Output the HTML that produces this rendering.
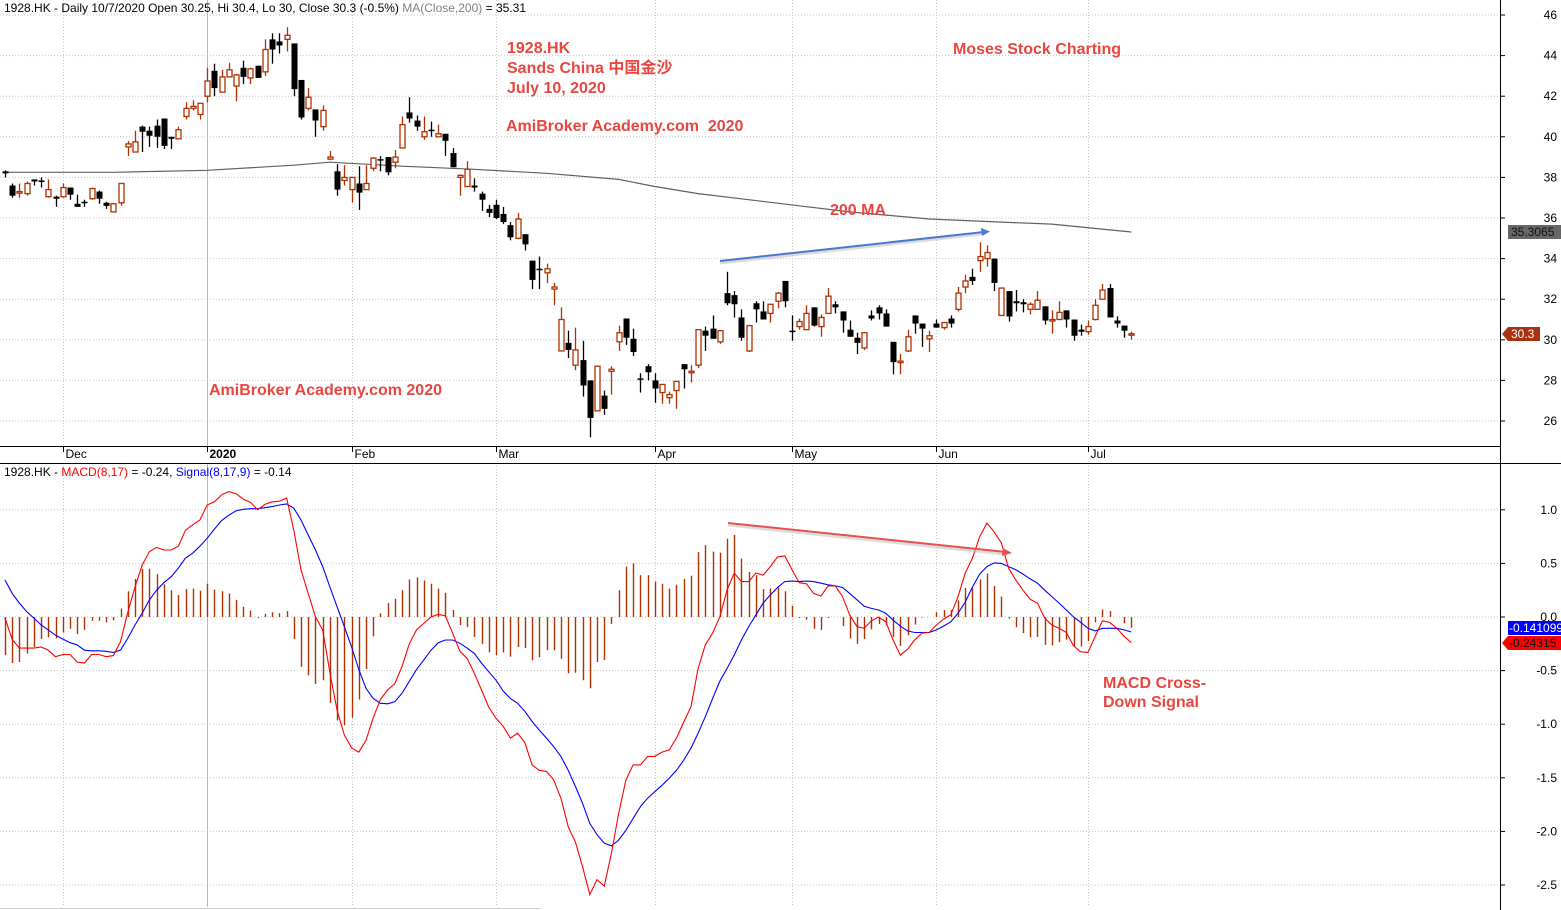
<!DOCTYPE html>
<html><head><meta charset="utf-8"><title>1928.HK Sands China chart</title>
<style>
html,body{margin:0;padding:0;background:#fff;}
svg{display:block;font-family:"Liberation Sans","Noto Sans CJK SC",sans-serif;}
.ann{fill:#e8463f;font-weight:bold;font-size:16px;}
.ax{font-size:12px;fill:#000;}
</style></head>
<body>
<svg id="chart" width="1561" height="910" viewBox="0 0 1561 910" xmlns="http://www.w3.org/2000/svg">
<rect x="0" y="0" width="1561" height="910" fill="#fff"/>
<g id="grid"></g>
<g id="ma"></g>
<g id="candles"></g>
<g id="macd"></g>
<g id="axes"></g>

<text x="4" y="12" class="ax">1928.HK - Daily 10/7/2020 Open 30.25, Hi 30.4, Lo 30, Close 30.3 (-0.5%) <tspan fill="#808080">MA(Close,200)</tspan> = 35.31</text>
<text x="4" y="476" class="ax">1928.HK - <tspan fill="#ff0000">MACD(8,17)</tspan> = -0.24, <tspan fill="#0000ff">Signal(8,17,9)</tspan> = -0.14</text>

<text x="507" y="53" class="ann">1928.HK</text>
<text x="507" y="73" class="ann">Sands China 中国金沙</text>
<text x="507" y="93" class="ann">July 10, 2020</text>
<text x="506" y="131" class="ann" xml:space="preserve">AmiBroker Academy.com  2020</text>
<text x="953" y="54" class="ann">Moses Stock Charting</text>
<text x="830" y="215" class="ann">200 MA</text>
<text x="209" y="395" class="ann">AmiBroker Academy.com 2020</text>
<text x="1103" y="688" class="ann">MACD Cross-</text>
<text x="1103" y="707" class="ann">Down Signal</text>

<g>
<line x1="720" y1="263" x2="982" y2="234" stroke="#bbb" stroke-width="3" opacity="0.5"/>
<line x1="720" y1="261" x2="984" y2="232" stroke="#4a78d0" stroke-width="2"/>
<polygon points="990,231.5 981,228 982,236" fill="#4a78d0"/>
</g>
<g>
<line x1="728" y1="525" x2="1004" y2="554" stroke="#bbb" stroke-width="3" opacity="0.5"/>
<line x1="728" y1="523" x2="1006" y2="552" stroke="#e85050" stroke-width="2"/>
<polygon points="1012,553 1003,548 1002,556" fill="#e85050"/>
</g>

<g>
<rect x="1508" y="225" width="53" height="14" fill="#666"/>
<text x="1511" y="236" font-size="12" fill="#111">35.3065</text>
</g>
<g>
<polygon points="1502,334 1508,327 1540,327 1540,341 1508,341" fill="#a83210"/>
<text x="1511" y="338" font-size="12" fill="#fff">30.3</text>
</g>
<g>
<rect x="1508" y="621" width="53" height="14" fill="#0000ff"/>
<text x="1509" y="632" font-size="12" fill="#fff">-0.141099</text>
</g>
<g>
<polygon points="1502,643 1508,636 1561,636 1561,650 1508,650" fill="#ff0000"/>
<text x="1509" y="647" font-size="12" fill="#111">-0.24315</text>
</g>
</svg>
<script>
const opens=[38.3,37.6,37.25,37.2,37.9,37.85,37.05,37.05,37.05,37.5,36.7,36.8,36.95,37.3,36.75,36.3,36.75,39.5,39.25,40.5,40.3,40.55,40.9,40.0,39.9,41.0,41.4,41.1,42.0,43.25,42.2,42.95,42.5,43.4,42.9,43.5,43.2,44.8,44.7,44.8,44.6,42.8,41.4,41.35,40.5,38.9,38.3,37.85,37.4,37.7,37.4,38.45,38.9,39.0,38.75,39.45,41.2,40.8,40.0,40.35,40.0,40.15,39.2,38.0,37.55,37.6,37.2,36.45,36.65,36.2,35.65,35.0,35.2,33.9,33.5,33.3,32.5,29.45,29.85,28.75,29.0,28.0,26.5,27.25,28.45,29.9,31.05,30.05,28.1,28.7,28.0,27.4,27.15,27.5,28.8,28.45,28.75,30.45,30.55,29.9,32.3,32.2,31.1,29.45,31.8,31.4,31.3,31.9,32.9,30.45,30.65,30.5,31.6,30.65,31.3,31.75,31.4,30.5,30.1,29.6,31.2,31.6,31.3,29.9,28.9,29.45,31.2,30.8,30.05,30.8,30.6,31.05,31.5,32.6,33.1,33.9,34.0,34.0,31.2,32.4,31.9,31.85,31.5,31.5,31.65,30.95,31.0,31.45,31.0,30.5,30.4,31.0,32.0,32.55,30.95,30.7,30.25];
const highs=[38.35,37.7,37.7,37.8,37.9,38.0,37.9,37.1,37.7,37.5,37.15,36.9,37.5,37.35,36.8,36.75,37.7,39.8,40.3,40.55,40.5,40.85,40.9,40.0,40.5,41.7,41.8,41.65,43.4,43.6,43.3,43.65,43.1,43.75,43.4,43.5,44.8,45.1,45.1,45.4,44.6,42.8,42.4,41.35,41.55,39.3,38.65,38.6,38.0,38.55,38.6,39.0,39.05,39.0,39.35,41.0,41.95,41.05,41.0,40.75,40.6,40.15,39.45,38.15,38.8,37.95,37.3,36.65,36.9,36.55,35.8,36.25,35.2,33.9,34.1,33.75,32.8,31.6,30.45,30.6,29.95,28.0,28.7,27.5,28.7,30.7,31.05,30.55,28.35,28.8,28.35,27.8,27.45,27.95,28.8,28.75,30.5,30.65,31.2,30.45,33.35,32.4,31.5,30.7,31.9,31.9,31.75,32.35,32.9,31.2,31.05,31.7,31.6,31.25,32.55,31.9,31.4,30.95,30.35,30.35,31.45,31.7,31.5,29.9,29.3,30.5,31.2,30.8,30.45,31.0,30.85,31.2,32.6,33.2,33.5,34.8,34.65,34.0,32.55,32.4,32.45,32.0,31.85,32.4,31.65,31.45,31.9,31.45,31.0,30.75,30.95,32.0,32.75,32.75,31.15,30.7,30.4];
const lows=[38.0,37.0,37.0,37.1,37.6,37.5,37.0,36.55,37.0,36.9,36.55,36.55,36.9,36.7,36.45,36.3,36.6,39.05,39.25,39.25,39.5,39.45,39.4,39.4,39.9,40.85,41.3,40.85,41.7,42.0,42.2,42.95,41.75,42.6,42.6,42.9,43.0,43.6,44.1,44.2,42.0,40.85,41.3,40.0,40.3,38.85,37.1,37.6,36.75,36.4,37.4,38.3,38.3,38.1,38.45,39.45,40.7,40.3,39.85,40.0,40.0,39.05,38.5,37.1,37.55,37.3,36.35,36.05,35.95,35.7,34.9,34.95,34.4,32.5,32.5,32.8,31.7,29.45,29.1,28.5,27.2,25.2,26.5,26.3,27.3,29.45,29.75,29.2,27.4,28.0,26.9,26.85,26.85,26.6,27.6,27.9,28.6,29.45,30.05,29.8,31.7,31.1,29.95,29.4,30.85,31.0,30.85,31.55,31.6,29.95,30.5,30.5,30.65,30.15,31.3,31.3,30.35,30.15,29.3,29.5,30.95,31.0,30.65,28.3,28.3,29.4,30.3,29.65,29.4,30.6,30.5,30.6,31.4,32.3,32.7,33.35,33.6,32.4,31.2,30.9,31.4,31.35,31.25,31.5,30.75,30.3,31.0,30.6,29.95,30.2,30.25,30.95,32.0,31.1,30.6,30.1,30.0];
const closes=[38.2,37.1,37.3,37.7,37.8,37.8,37.4,36.95,37.5,37.15,36.55,36.75,37.45,36.95,36.6,36.7,37.7,39.65,39.75,40.25,40.05,40.0,39.55,39.9,40.35,41.4,41.5,41.65,42.75,42.4,42.95,43.3,43.05,42.95,43.35,42.9,44.3,44.3,44.5,45.0,42.35,40.95,41.95,40.8,41.3,39.0,37.4,38.0,38.0,37.25,37.7,38.95,38.85,38.25,39.0,40.6,40.9,40.5,40.25,40.3,40.15,39.8,38.5,38.1,38.4,37.5,36.9,36.25,36.0,35.8,35.05,35.95,34.7,32.95,33.45,33.5,32.6,31.0,29.5,29.5,27.75,26.15,28.7,26.6,28.55,30.35,30.1,29.4,28.05,28.4,27.6,27.8,27.3,27.95,28.55,28.45,30.5,30.2,30.05,30.45,31.8,31.75,30.1,30.7,31.5,31.0,31.75,32.3,31.9,30.4,30.9,31.3,30.7,31.1,32.15,31.6,30.95,30.15,29.85,30.35,31.05,31.3,30.65,28.9,28.95,30.15,30.8,30.55,30.2,30.6,30.85,30.8,32.3,32.9,32.9,34.1,34.3,32.8,32.55,31.15,31.8,31.75,31.75,31.95,30.95,31.0,31.35,31.0,30.2,30.4,30.65,31.7,32.45,31.1,30.8,30.45,30.3];
const maIdx=[0,15,28,40,45,55,65,75,85,90,96,110,117,128,138,145,156];
const maVal=[38.25,38.25,38.35,38.6,38.75,38.55,38.4,38.2,37.9,37.55,37.2,36.6,36.3,35.95,35.8,35.7,35.31];
const macdVals=[-0.01,-0.21,-0.29,-0.29,-0.29,-0.28,-0.31,-0.37,-0.35,-0.35,-0.42,-0.43,-0.35,-0.35,-0.37,-0.36,-0.23,0.04,0.28,0.485,0.61,0.65,0.625,0.625,0.66,0.81,0.86,0.905,1.045,1.075,1.14,1.17,1.15,1.10,1.07,1.0,1.05,1.075,1.08,1.11,0.81,0.44,0.22,0.0,-0.12,-0.52,-0.87,-1.1,-1.22,-1.26,-1.15,-0.94,-0.77,-0.68,-0.62,-0.46,-0.25,-0.12,-0.06,0.0,0.025,0.01,-0.15,-0.32,-0.385,-0.525,-0.68,-0.84,-0.945,-1.02,-1.13,-1.085,-1.17,-1.38,-1.43,-1.44,-1.52,-1.69,-1.955,-2.10,-2.33,-2.59,-2.45,-2.51,-2.20,-1.83,-1.52,-1.38,-1.38,-1.30,-1.30,-1.26,-1.24,-1.13,-0.98,-0.84,-0.48,-0.26,-0.15,0.0,0.25,0.41,0.33,0.33,0.41,0.39,0.47,0.56,0.57,0.44,0.32,0.31,0.22,0.195,0.29,0.29,0.19,0.02,-0.09,-0.105,-0.035,0.0,-0.045,-0.215,-0.355,-0.30,-0.215,-0.15,-0.145,-0.075,-0.02,0.02,0.19,0.41,0.55,0.75,0.875,0.795,0.69,0.455,0.345,0.25,0.165,0.13,-0.01,-0.075,-0.105,-0.145,-0.27,-0.325,-0.33,-0.18,-0.035,-0.05,-0.105,-0.18,-0.24];
const signalVals=[0.345,0.22,0.13,0.05,-0.01,-0.075,-0.12,-0.17,-0.205,-0.24,-0.26,-0.31,-0.315,-0.315,-0.32,-0.33,-0.31,-0.2,-0.075,0.035,0.16,0.25,0.32,0.375,0.455,0.55,0.595,0.66,0.735,0.82,0.90,0.95,0.99,1.005,1.01,1.01,1.02,1.03,1.045,1.055,1.015,0.905,0.765,0.625,0.47,0.28,0.095,-0.09,-0.28,-0.49,-0.665,-0.76,-0.805,-0.81,-0.79,-0.71,-0.60,-0.49,-0.40,-0.31,-0.24,-0.215,-0.215,-0.245,-0.29,-0.34,-0.43,-0.51,-0.59,-0.69,-0.76,-0.805,-0.88,-0.975,-1.055,-1.13,-1.21,-1.30,-1.43,-1.58,-1.74,-1.925,-2.03,-2.11,-2.135,-2.08,-1.99,-1.88,-1.77,-1.69,-1.63,-1.57,-1.505,-1.43,-1.335,-1.225,-1.085,-0.93,-0.76,-0.60,-0.48,-0.355,-0.215,-0.09,0.02,0.13,0.205,0.275,0.33,0.335,0.33,0.335,0.33,0.315,0.30,0.29,0.275,0.22,0.16,0.10,0.08,0.065,0.035,-0.03,-0.085,-0.13,-0.145,-0.145,-0.145,-0.12,-0.085,-0.045,0.035,0.14,0.28,0.40,0.47,0.505,0.50,0.47,0.44,0.40,0.355,0.315,0.25,0.19,0.13,0.065,0.0,-0.05,-0.105,-0.13,-0.105,-0.105,-0.105,-0.12,-0.14];
const priceTicks=[46,44,42,40,38,36,34,32,30,28,26];
const macdTicks=[1.0,0.5,0.0,-0.5,-1.0,-1.5,-2.0,-2.5];
const monthLabels=["Dec","2020","Feb","Mar","Apr","May","Jun","Jul"];
const monthIdx=[8,28,48,68,90,109,129,150];

const NS="http://www.w3.org/2000/svg";
const xOf=i=>5+i*7.22;
const yP=p=>15+(46-p)*20.3;
const yM=v=>617-v*107.2;
function mk(tag,attrs,parent){const e=document.createElementNS(NS,tag);for(const k in attrs)e.setAttribute(k,attrs[k]);parent.appendChild(e);return e;}

const grid=document.getElementById('grid');
priceTicks.forEach(t=>{
  const l=mk('line',{x1:0,x2:1500,y1:yP(t),y2:yP(t),stroke:'#c4c4c4','stroke-dasharray':'1,2'},grid);
  
  
});
macdTicks.forEach(t=>{
  const l=mk('line',{x1:0,x2:1500,y1:yM(t),y2:yM(t),stroke:'#c4c4c4','stroke-dasharray':'1,2'},grid);
  
  
});
monthIdx.forEach((mi,k)=>{
  const x=Math.round(xOf(mi))+0.5;
  const solid=monthLabels[k]==="2020";
  [[0,446],[463,907]].forEach(r=>{
    const l=mk('line',{x1:x,x2:x,y1:r[0],y2:r[1],stroke:solid?'#b8b8b8':'#c4c4c4','stroke-dasharray':solid?'none':'1,2'},grid);
    
    
  });
});

const maG=document.getElementById('ma');
const maPts=maIdx.map((ix,k)=>xOf(ix).toFixed(1)+','+yP(maVal[k]).toFixed(1)).join(' ');
const maLine=mk('polyline',{points:maPts,fill:'none',stroke:'#606060','stroke-width':1.2},maG);



const cg=document.getElementById('candles');
for(let i=0;i<opens.length;i++){
  const x=Math.round(xOf(i));
  const up=closes[i]>=opens[i];
  const col=up?'#b03000':'#000';
  const g=mk('g',{},cg);
  
  
  mk('line',{x1:x+0.5,x2:x+0.5,y1:yP(highs[i]),y2:yP(lows[i]),stroke:col,'stroke-width':1.3},g);
  const top=yP(Math.max(opens[i],closes[i])), bot=yP(Math.min(opens[i],closes[i]));
  const h=Math.max(bot-top,1.5);
  if(up) mk('rect',{x:x-2,y:top,width:5,height:h,fill:'#fff',stroke:col,'stroke-width':1.3},g);
  else mk('rect',{x:x-2.5,y:top,width:6,height:h,fill:'#000'},g);
}

const mg=document.getElementById('macd');
for(let i=0;i<macdVals.length;i++){
  const hv=macdVals[i]-signalVals[i];
  const x=Math.round(xOf(i))+0.5;
  const b=mk('line',{x1:x,x2:x,y1:yM(0),y2:yM(hv),stroke:'#b03000','stroke-width':1.4},mg);
  
  
}
const sig=mk('polyline',{points:signalVals.map((v,i)=>xOf(i).toFixed(1)+','+yM(v).toFixed(1)).join(' '),fill:'none',stroke:'#0000ff','stroke-width':1.1},mg);


const mac=mk('polyline',{points:macdVals.map((v,i)=>xOf(i).toFixed(1)+','+yM(v).toFixed(1)).join(' '),fill:'none',stroke:'#ff0000','stroke-width':1.1},mg);



const ax=document.getElementById('axes');
mk('line',{x1:1500.5,x2:1500.5,y1:0,y2:910,stroke:'#000'},ax);
mk('line',{x1:0,x2:1500,y1:446.5,y2:446.5,stroke:'#000'},ax);
mk('line',{x1:0,x2:1561,y1:463.5,y2:463.5,stroke:'#000'},ax);
mk('line',{x1:0,x2:540,y1:908.5,y2:908.5,stroke:'#ccc'},ax);
priceTicks.forEach(t=>{
  mk('line',{x1:1500,x2:1505,y1:yP(t),y2:yP(t),stroke:'#000'},ax);
  const tx=mk('text',{x:1557,y:yP(t)+4,'text-anchor':'end','font-size':12},ax);
  tx.textContent=String(t);
  
  
});
macdTicks.forEach(t=>{
  mk('line',{x1:1500,x2:1505,y1:yM(t),y2:yM(t),stroke:'#000'},ax);
  const tx=mk('text',{x:1557,y:yM(t)+4,'text-anchor':'end','font-size':12},ax);
  tx.textContent=t.toFixed(1);
  
  
});
monthIdx.forEach((mi,k)=>{
  const x=Math.round(xOf(mi))+0.5;
  mk('line',{x1:x,x2:x,y1:446,y2:452,stroke:'#000'},ax);
  const tx=mk('text',{x:x+2,y:458,'font-size':12,'font-weight':monthLabels[k]==="2020"?'bold':'normal'},ax);
  tx.textContent=monthLabels[k];
  
  
});
</script>
</body></html>
